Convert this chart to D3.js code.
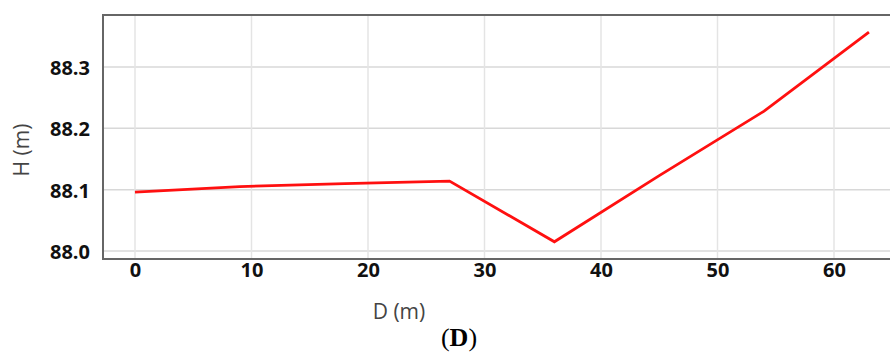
<!DOCTYPE html>
<html>
<head>
<meta charset="utf-8">
<script src="https://cdn.jsdelivr.net/npm/d3@7"></script>
<style>
  html, body { margin: 0; padding: 0; background: #fff; }
  svg { display: block; }
</style>
</head>
<body>
<svg id="chart" width="890" height="354"></svg>
<script>
// Data
const distances = [0, 9, 18, 27, 36, 45, 54, 63];
const heights = [88.096, 88.105, 88.110, 88.114, 88.015, 88.123, 88.228, 88.357];
const xTicks = [0, 10, 20, 30, 40, 50, 60];
const yTicks = [88.0, 88.1, 88.2, 88.3];
const xTitle = "D (m)";
const yTitle = "H (m)";
const caption = "D";

const svg = d3.select("#chart");
const plotLeft = 103, plotRight = 891, plotTop = 15, plotBottom = 259;

const x = d3.scaleLinear().domain([0, 60]).range([135, 834]);
const y = d3.scaleLinear().domain([88.0, 88.3]).range([251, 67]);

// gridlines
svg.append("g").selectAll("line").data(yTicks).join("line")
  .attr("x1", plotLeft).attr("x2", plotRight)
  .attr("y1", d => y(d)).attr("y2", d => y(d))
  .attr("stroke", "#d8d8d8").attr("stroke-width", 1.5);
svg.append("g").selectAll("line").data(xTicks).join("line")
  .attr("x1", d => x(d)).attr("x2", d => x(d))
  .attr("y1", plotTop).attr("y2", plotBottom)
  .attr("stroke", "#e4e4e4").attr("stroke-width", 1.5);

// frame (top, left, bottom)
svg.append("path")
  .attr("d", `M${plotRight},${plotTop}H${plotLeft}V${plotBottom}H${plotRight}`)
  .attr("fill", "none").attr("stroke", "#666").attr("stroke-width", 2);

// y axis labels
const yAxis = d3.axisLeft(y).tickValues(yTicks).tickFormat(d3.format(".1f")).tickSize(0).tickPadding(0);
const gy = svg.append("g").attr("transform", "translate(90,1)").call(yAxis);
gy.select(".domain").remove();
gy.selectAll("text")
  .attr("font-family", "'Open Sans', sans-serif").attr("font-weight", "bold")
  .attr("font-size", 20).attr("fill", "#111");

// x axis labels
const xAxis = d3.axisBottom(x).tickValues(xTicks).tickFormat(d3.format("d")).tickSize(0).tickPadding(0);
const gx = svg.append("g").attr("transform", "translate(0,263)").call(xAxis);
gx.select(".domain").remove();
gx.selectAll("text")
  .attr("font-family", "'Open Sans', sans-serif").attr("font-weight", "bold")
  .attr("font-size", 20).attr("fill", "#111");

// line
const line = d3.line().x((d, i) => x(distances[i])).y(d => y(d));
svg.append("path").datum(heights)
  .attr("d", line)
  .attr("fill", "none").attr("stroke", "#ff1010").attr("stroke-width", 2.8)
  .attr("stroke-linejoin", "miter");

// axis titles
svg.append("text")
  .attr("transform", "translate(29,150) rotate(-90)")
  .attr("text-anchor", "middle")
  .attr("font-family", "'Open Sans', sans-serif").attr("font-size", 21)
  .attr("fill", "#444").text(yTitle);
svg.append("text")
  .attr("x", 399).attr("y", 319)
  .attr("text-anchor", "middle")
  .attr("font-family", "'Open Sans', sans-serif").attr("font-size", 21)
  .attr("fill", "#444").text(xTitle);

// caption
const cap = svg.append("text")
  .attr("x", 459).attr("y", 346)
  .attr("text-anchor", "middle")
  .attr("font-family", "'Liberation Serif', 'Times New Roman', serif").attr("font-size", 26)
  .attr("fill", "#000");
cap.append("tspan").text("(");
cap.append("tspan").attr("font-weight", "bold").text(caption);
cap.append("tspan").text(")");
</script>
</body>
</html>
